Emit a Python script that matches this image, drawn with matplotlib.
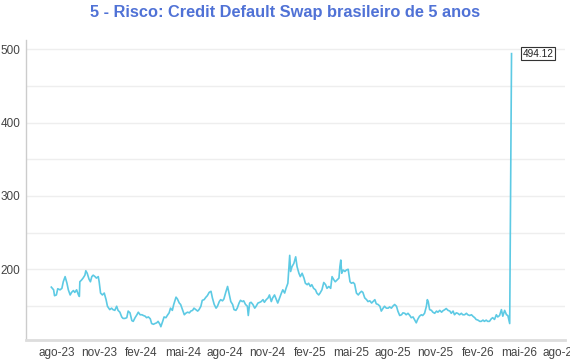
import matplotlib
matplotlib.use("Agg")
import matplotlib.pyplot as plt
import pandas as pd

# valores (CDS 5 anos, pontos-base)
dates = [
    "2023-07-20", "2023-07-25", "2023-07-27", "2023-07-31", "2023-08-03", "2023-08-08", "2023-08-12",
    "2023-08-15", "2023-08-19", "2023-08-23", "2023-08-26", "2023-08-30", "2023-09-02", "2023-09-06",
    "2023-09-09", "2023-09-13", "2023-09-17", "2023-09-19", "2023-09-20", "2023-09-24", "2023-09-27",
    "2023-10-01", "2023-10-03", "2023-10-06", "2023-10-10", "2023-10-13", "2023-10-16", "2023-10-19",
    "2023-10-23", "2023-10-26", "2023-10-30", "2023-11-01", "2023-11-04", "2023-11-08", "2023-11-12",
    "2023-11-16", "2023-11-19", "2023-11-24", "2023-11-28", "2023-12-01", "2023-12-05", "2023-12-09",
    "2023-12-12", "2023-12-16", "2023-12-20", "2023-12-23", "2023-12-27", "2023-12-31", "2024-01-03",
    "2024-01-07", "2024-01-11", "2024-01-14", "2024-01-18", "2024-01-22", "2024-01-25", "2024-01-29",
    "2024-02-02", "2024-02-05", "2024-02-09", "2024-02-12", "2024-02-16", "2024-02-20", "2024-02-23",
    "2024-02-27", "2024-03-01", "2024-03-05", "2024-03-08", "2024-03-12", "2024-03-14", "2024-03-18",
    "2024-03-21", "2024-03-25", "2024-03-29", "2024-04-01", "2024-04-04", "2024-04-08", "2024-04-11",
    "2024-04-16", "2024-04-19", "2024-04-23", "2024-04-26", "2024-04-30", "2024-05-04", "2024-05-07",
    "2024-05-11", "2024-05-15", "2024-05-18", "2024-05-22", "2024-05-25", "2024-05-29", "2024-06-02",
    "2024-06-05", "2024-06-09", "2024-06-12", "2024-06-16", "2024-06-20", "2024-06-23", "2024-06-27",
    "2024-07-01", "2024-07-04", "2024-07-08", "2024-07-12", "2024-07-15", "2024-07-19", "2024-07-22",
    "2024-07-26", "2024-07-29", "2024-08-02", "2024-08-06", "2024-08-09", "2024-08-13", "2024-08-17",
    "2024-08-20", "2024-08-24", "2024-08-27", "2024-08-31", "2024-09-03", "2024-09-07", "2024-09-10",
    "2024-09-14", "2024-09-18", "2024-09-20", "2024-09-23", "2024-09-26", "2024-09-30", "2024-10-04",
    "2024-10-07", "2024-10-11", "2024-10-15", "2024-10-18", "2024-10-22", "2024-10-25", "2024-10-29",
    "2024-11-02", "2024-11-05", "2024-11-09", "2024-11-12", "2024-11-16", "2024-11-20", "2024-11-23",
    "2024-11-27", "2024-12-01", "2024-12-04", "2024-12-08", "2024-12-11", "2024-12-15", "2024-12-19",
    "2024-12-21", "2024-12-24", "2024-12-28", "2025-01-01", "2025-01-04", "2025-01-08", "2025-01-11",
    "2025-01-15", "2025-01-19", "2025-01-22", "2025-01-26", "2025-01-29", "2025-02-02", "2025-02-05",
    "2025-02-09", "2025-02-13", "2025-02-16", "2025-02-20", "2025-02-23", "2025-02-27", "2025-03-03",
    "2025-03-07", "2025-03-10", "2025-03-14", "2025-03-18", "2025-03-21", "2025-03-25", "2025-03-28",
    "2025-04-01", "2025-04-05", "2025-04-07", "2025-04-09", "2025-04-11", "2025-04-14", "2025-04-18",
    "2025-04-21", "2025-04-25", "2025-04-29", "2025-05-02", "2025-05-06", "2025-05-09", "2025-05-13",
    "2025-05-17", "2025-05-20", "2025-05-24", "2025-05-27", "2025-05-31", "2025-06-04", "2025-06-07",
    "2025-06-11", "2025-06-15", "2025-06-18", "2025-06-22", "2025-06-25", "2025-06-29", "2025-07-03",
    "2025-07-06", "2025-07-10", "2025-07-13", "2025-07-17", "2025-07-21", "2025-07-24", "2025-07-28",
    "2025-07-31", "2025-08-04", "2025-08-08", "2025-08-11", "2025-08-15", "2025-08-19", "2025-08-22",
    "2025-08-26", "2025-08-29", "2025-09-02", "2025-09-06", "2025-09-09", "2025-09-13", "2025-09-16",
    "2025-09-20", "2025-09-23", "2025-09-27", "2025-10-01", "2025-10-04", "2025-10-08", "2025-10-12",
    "2025-10-14", "2025-10-16", "2025-10-19", "2025-10-23", "2025-10-26", "2025-10-30", "2025-11-03",
    "2025-11-06", "2025-11-10", "2025-11-14", "2025-11-17", "2025-11-21", "2025-11-24", "2025-11-28",
    "2025-12-02", "2025-12-05", "2025-12-09", "2025-12-12", "2025-12-16", "2025-12-19", "2025-12-23",
    "2025-12-27", "2025-12-30", "2026-01-03", "2026-01-07", "2026-01-10", "2026-01-14", "2026-01-18",
    "2026-01-21", "2026-01-25", "2026-01-28", "2026-02-01", "2026-02-05", "2026-02-08", "2026-02-12",
    "2026-02-15", "2026-02-19", "2026-02-22", "2026-02-26", "2026-03-02", "2026-03-05", "2026-03-09",
    "2026-03-13", "2026-03-16", "2026-03-20", "2026-03-24", "2026-03-27", "2026-03-31", "2026-04-04",
    "2026-04-07", "2026-04-11", "2026-04-15",
]
cds = [
    175.7, 172, 164, 165, 173.5, 172, 174,
    183, 190, 181, 172, 165, 168.5, 171,
    168.5, 172, 165, 163, 183, 185.6, 188,
    192, 198, 194.6, 186.5, 183, 190, 192,
    190, 188, 190, 183, 167.6, 165, 167.6,
    158.6, 149.6, 145, 147, 145, 144, 149.6,
    144, 141.5, 135, 133, 133, 134, 143,
    140.6, 130, 129, 134, 138, 141.5, 138,
    138, 137, 136, 134, 135, 132.5, 126,
    125, 126, 127, 129, 125, 121.7, 129,
    135, 134, 138, 140.6, 147, 144, 152,
    162, 159.5, 154, 152, 145, 138, 140,
    141.5, 140.6, 143, 144, 147, 145, 143,
    145, 149.6, 157.7, 158.6, 162, 164, 168.5,
    170, 161, 152, 147, 149.6, 156, 158.6,
    157, 159.5, 168.5, 176.6, 167.6, 156, 152,
    145, 144, 147, 154, 157.7, 156, 157,
    152, 149.6, 137, 154, 155, 152, 147,
    149.6, 154, 155, 156, 158.6, 155, 158.6,
    161, 165, 156, 161, 165, 158.6, 154,
    161, 167.6, 172, 167.6, 174, 181, 219,
    197, 203.6, 208, 217, 203.6, 194.6, 190,
    194.6, 188, 181, 179, 181, 176.6, 179,
    174, 172, 167.6, 165, 167.6, 172, 182,
    179, 174, 176.6, 174, 190, 185.6, 183,
    185.6, 188, 203.6, 212.6, 194.6, 199, 197,
    199, 200, 183, 181, 182, 180, 167.6,
    165, 167.6, 170, 168.5, 161, 158.6, 156,
    157, 154, 156, 158.6, 153, 152, 149.6,
    143, 147, 149.6, 147, 147, 148.7, 147,
    149.6, 152, 149.6, 143, 137, 138, 140.6,
    140, 138, 140, 137, 134, 135, 131.6,
    127, 131.6, 136, 138, 137, 140, 149.6,
    158.6, 156, 145, 144, 141.5, 140, 143,
    141.5, 144, 141.5, 143.5, 145, 146.5, 144,
    143, 140, 143, 138, 140.6, 140, 138,
    140, 138, 138, 140, 138, 137, 138,
    136, 134, 131.6, 130.7, 129, 129, 130.7,
    129, 130.7, 129, 129, 132.5, 134, 131.6,
    138, 135, 137, 145, 136, 144, 138,
    137, 126, 494.12,
]

tick_dates = ["2023-08-01", "2023-11-01", "2024-02-01", "2024-05-01", "2024-08-01",
              "2024-11-01", "2025-02-01", "2025-05-01", "2025-08-01", "2025-11-01",
              "2026-02-01", "2026-05-01", "2026-08-01"]
tick_labels = ["ago-23", "nov-23", "fev-24", "mai-24", "ago-24", "nov-24", "fev-25",
               "mai-25", "ago-25", "nov-25", "fev-26", "mai-26", "ago-26"]

plt.rcParams["font.family"] = ["Liberation Sans", "DejaVu Sans"]

x = pd.to_datetime(dates)
fig = plt.figure(figsize=(5.7, 3.6), dpi=100)
ax = fig.add_axes([0.0456, 0.0556, 0.9455, 0.8333])

ax.plot(x, cds, color="#5DCAE4", linewidth=1.2)

ax.set_xlim(pd.Timestamp("2023-05-26"), pd.Timestamp("2026-08-09"))
ax.set_ylim(103.6, 512.7)

ax.set_xticks(pd.to_datetime(tick_dates))
ax.set_xticklabels(tick_labels)
ax.set_yticks([200, 300, 400, 500])
ax.set_yticks([150, 250, 350, 450], minor=True)
ax.grid(True, axis="y", which="both", color="#EEEEEE", linewidth=1)
ax.set_axisbelow(True)

ax.tick_params(axis="both", which="both", length=0, labelsize=8.5, labelcolor="#444444")
ax.tick_params(axis="x", pad=5)
ax.tick_params(axis="y", pad=4)

for side in ["top", "right"]:
    ax.spines[side].set_visible(False)
ax.spines["left"].set_color("#CCCCCC")
ax.spines["left"].set_linewidth(1)
ax.spines["bottom"].set_color("#DDDDDD")
ax.spines["bottom"].set_linewidth(2)

ax.annotate(f"{cds[-1]:.2f}", xy=(x[-1], cds[-1]), xytext=(8, 0), textcoords="offset points",
            ha="left", va="center", fontsize=7.2, color="#222222",
            bbox=dict(boxstyle="square,pad=0.18", fc="white", ec="#333333", lw=0.8))

fig.suptitle("5 - Risco: Credit Default Swap brasileiro de 5 anos", x=0.5, y=0.965, va="center",
             fontsize=11.8, fontweight="bold", color="#5072D6")

fig.savefig("out.png", dpi=100)
